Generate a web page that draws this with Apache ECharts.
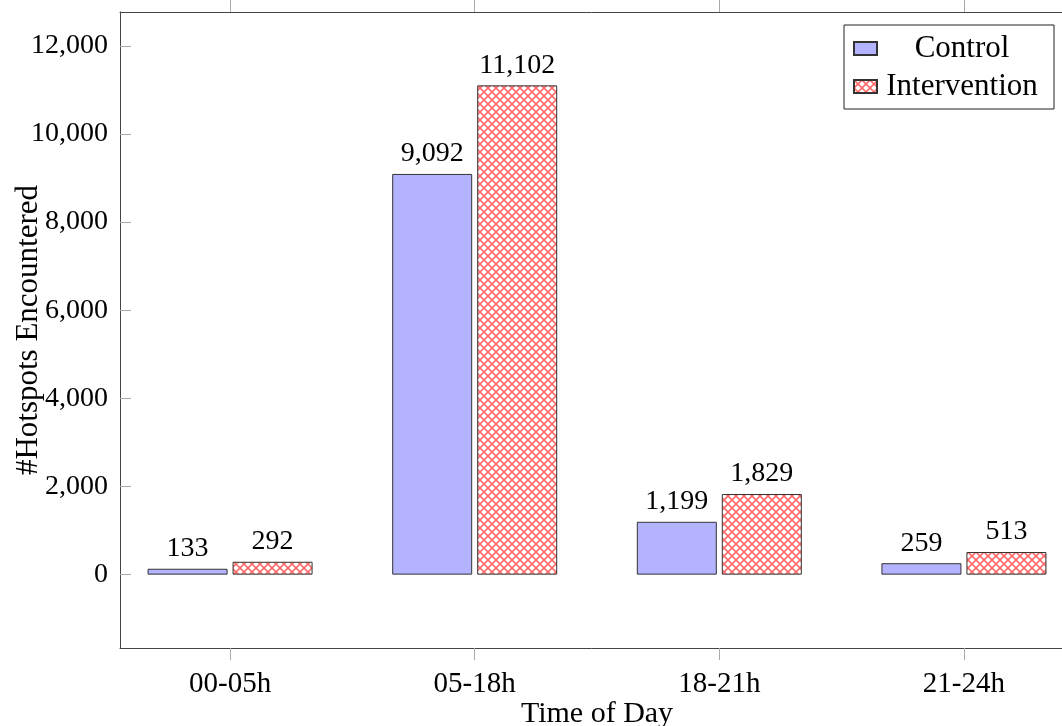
<!DOCTYPE html>
<html>
<head>
<meta charset="utf-8">
<script src="https://cdn.jsdelivr.net/npm/echarts@6/dist/echarts.min.js"></script>
<style>
html,body{margin:0;padding:0;background:#fff;}
#chart{width:1062px;height:726px;}
</style>
</head>
<body>
<div id="chart"></div>
<script>
const categories = ['00-05h', '05-18h', '18-21h', '21-24h'];
const controlValues = [133, 9092, 1199, 259];
const interventionValues = [292, 11102, 1829, 513];
const yTickValues = [0, 2000, 4000, 6000, 8000, 10000, 12000];
const xTickValues = [0, 1, 2, 3];

const FONT = 'Liberation Serif';
const fmt = v => Number(v).toLocaleString('en-US');

// crosshatch pattern
const pat = document.createElement('canvas');
pat.width = 8; pat.height = 8;
const pc = pat.getContext('2d');
pc.fillStyle = '#ffffff';
pc.fillRect(0, 0, 8, 8);
pc.strokeStyle = '#ff6b6b';
pc.lineWidth = 1.6;
pc.beginPath();
pc.moveTo(-1, -1); pc.lineTo(9, 9);
pc.moveTo(9, -1); pc.lineTo(-1, 9);
pc.stroke();

const chart = echarts.init(document.getElementById('chart'), null, {renderer: 'canvas'});

const labelStyle = {
  show: true, position: 'top', distance: 6,
  fontFamily: FONT, fontSize: 28, color: '#000',
  formatter: p => fmt(p.value[1])
};

chart.setOption({
  animation: false,
  backgroundColor: '#fff',
  grid: {left: 120, top: 12, right: -12, bottom: 78, containLabel: false, outerBoundsMode: 'none'},
  legend: {
    orient: 'vertical', right: 8, top: 25,
    padding: [8, 12, 7, 9],
    itemGap: 7, itemWidth: 23, itemHeight: 13,
    borderColor: '#222', borderWidth: 1, backgroundColor: '#fff',
    icon: 'rect',
    formatter: name => '{a|' + name + '}',
    textStyle: {
      fontFamily: FONT, fontSize: 31, color: '#000', lineHeight: 30,
      rich: {a: {width: 160, align: 'center', fontFamily: FONT, fontSize: 31, lineHeight: 30}}
    },
    data: ['Control', 'Intervention']
  },
  xAxis: [{
    type: 'value', position: 'bottom', min: -0.45, max: 3.45,
    name: 'Time of Day', nameLocation: 'middle', nameGap: 51, nameMoveOverlap: false,
    nameTextStyle: {fontFamily: FONT, fontSize: 30, color: '#000'},
    axisLine: {show: true, onZero: false, lineStyle: {color: '#444', width: 1}},
    axisTick: {show: true, inside: false, length: 12, customValues: xTickValues, lineStyle: {color: '#aaa'}},
    axisLabel: {
      show: true, margin: 22, customValues: xTickValues,
      fontFamily: FONT, fontSize: 29, color: '#000',
      formatter: v => categories[Math.round(v)] || ''
    },
    splitLine: {show: false}
  }, {
    type: 'value', position: 'top', min: -0.45, max: 3.45,
    axisLine: {show: true, onZero: false, lineStyle: {color: '#444', width: 1}},
    axisTick: {show: true, inside: false, length: 12, customValues: xTickValues, lineStyle: {color: '#aaa'}},
    axisLabel: {show: false},
    splitLine: {show: false}
  }],
  yAxis: [{
    type: 'value', min: -1665, max: 12767,
    name: '#Hotspots Encountered', nameLocation: 'middle', nameGap: 76, nameMoveOverlap: false,
    nameTextStyle: {fontFamily: FONT, fontSize: 31, color: '#000'},
    axisLine: {show: true, onZero: false, lineStyle: {color: '#444', width: 1}},
    axisTick: {show: true, inside: true, length: 11, customValues: yTickValues, lineStyle: {color: '#aaa'}},
    axisLabel: {
      show: true, margin: 12, customValues: yTickValues,
      fontFamily: FONT, fontSize: 28, color: '#000',
      formatter: v => fmt(v)
    },
    splitLine: {show: false}
  }],
  series: [{
    name: 'Control', type: 'bar', xAxisIndex: 0, yAxisIndex: 0,
    barWidth: 80, barGap: '6.25%',
    itemStyle: {color: '#b3b3ff', borderColor: '#333', borderWidth: 1},
    label: labelStyle,
    data: controlValues.map((v, i) => [i, v])
  }, {
    name: 'Intervention', type: 'bar', xAxisIndex: 0, yAxisIndex: 0,
    barWidth: 80, barGap: '6.25%',
    itemStyle: {color: {image: pat, repeat: 'repeat'}, borderColor: '#333', borderWidth: 1},
    label: labelStyle,
    data: interventionValues.map((v, i) => [i, v])
  }]
});
</script>
</body>
</html>
